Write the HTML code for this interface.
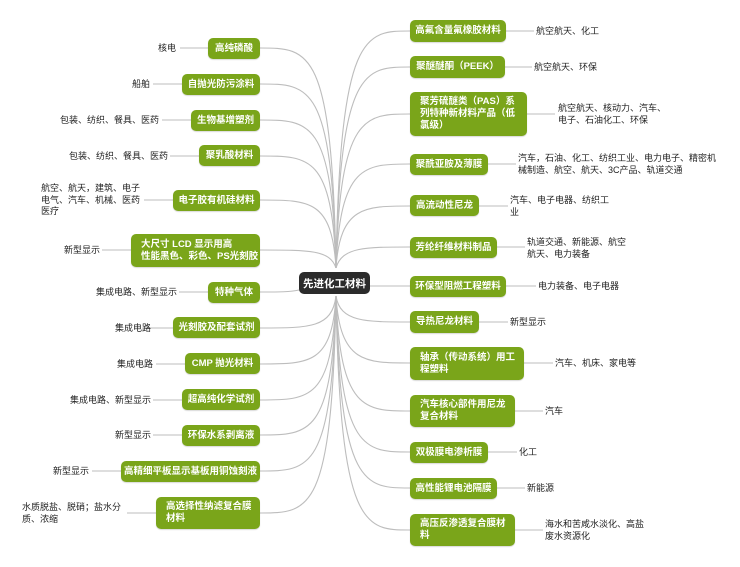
<!DOCTYPE html>
<html><head><meta charset="utf-8"><style>
body{margin:0;width:740px;height:567px;background:#fff;position:relative;overflow:hidden;font-family:"Liberation Sans","Noto Sans CJK SC",sans-serif;}
.n{position:absolute;background:#7aa51a;color:#fff;font-size:9.5px;font-weight:bold;border-radius:5px;box-sizing:border-box;padding:0 4px;display:flex;align-items:center;justify-content:center;line-height:16px;white-space:nowrap;box-shadow:0 1px 1px rgba(0,0,0,.15);}
.n.m{justify-content:flex-start;padding-left:10px;line-height:12px;}
.l{position:absolute;color:#222;font-size:9px;line-height:12px;white-space:nowrap;}
.r{text-align:right;}
.c{position:absolute;left:299px;top:272px;width:71px;height:22px;background:#2b2b2b;color:#fff;font-size:10.5px;font-weight:bold;border-radius:5px;display:flex;align-items:center;justify-content:center;white-space:nowrap;}
svg{position:absolute;left:0;top:0;}
</style></head><body>
<svg width="740" height="567" fill="none" stroke="#bdbdbd" stroke-width="1.1">
<path d="M336,268 C332,48 310,48 260,48 M208,48 H180"/>
<path d="M336,268 C332,84 310,84 260,84 M182,84 H153"/>
<path d="M336,268 C332,120 310,120 260,120 M191,120 H162"/>
<path d="M336,268 C332,156 310,156 260,156 M199,156 H170"/>
<path d="M336,268 C332,200 310,200 260,200 M173,200 H144"/>
<path d="M336,268 C330,250 310,250 260,250 M131,250 H102"/>
<path d="M299,290 C290,292 280,292 260,292 M208,292 H179"/>
<path d="M336,296 C332,328 310,328 260,328 M173,328 H144"/>
<path d="M336,296 C332,364 310,364 260,364 M185,364 H156"/>
<path d="M336,296 C332,400 310,400 260,400 M182,400 H153"/>
<path d="M336,296 C332,435 310,435 260,435 M182,435 H153"/>
<path d="M336,296 C332,471 310,471 260,471 M121,471 H92"/>
<path d="M336,296 C332,513 310,513 260,513 M156,513 H127"/>
<path d="M336,268 C340,31 365,31 410,31 M506,31 H534"/>
<path d="M336,268 C340,67 365,67 410,67 M505,67 H532"/>
<path d="M336,268 C340,114 365,114 410,114 M527,114 H555"/>
<path d="M336,268 C340,164 365,164 410,164 M488,164 H516"/>
<path d="M336,268 C340,206 365,206 410,206 M479,206 H508"/>
<path d="M336,268 C342,247 365,247 410,247 M497,247 H525"/>
<path d="M370,286 H410 M506,286 H536"/>
<path d="M336,296 C340,322 365,322 410,322 M479,322 H508"/>
<path d="M336,296 C340,363 365,363 410,363 M524,363 H553"/>
<path d="M336,296 C340,411 365,411 410,411 M515,411 H543"/>
<path d="M336,296 C340,452 365,452 410,452 M488,452 H517"/>
<path d="M336,296 C340,488 365,488 410,488 M497,488 H525"/>
<path d="M336,296 C340,530 365,530 410,530 M515,530 H543"/>
</svg>
<div class="c">先进化工材料</div>

<div class="n" style="left:208px;top:38px;width:52px;height:21px">高纯磷酸</div>
<div class="n" style="left:182px;top:74px;width:78px;height:21px">自抛光防污涂料</div>
<div class="n" style="left:191px;top:110px;width:69px;height:21px">生物基增塑剂</div>
<div class="n" style="left:199px;top:145px;width:61px;height:21px">聚乳酸材料</div>
<div class="n" style="left:173px;top:190px;width:87px;height:21px">电子胶有机硅材料</div>
<div class="n m" style="left:131px;top:234px;width:129px;height:33px">大尺寸 LCD 显示用高<br>性能黑色、彩色、PS光刻胶</div>
<div class="n" style="left:208px;top:282px;width:52px;height:21px">特种气体</div>
<div class="n" style="left:173px;top:317px;width:87px;height:21px">光刻胶及配套试剂</div>
<div class="n" style="left:185px;top:353px;width:75px;height:21px">CMP 抛光材料</div>
<div class="n" style="left:182px;top:389px;width:78px;height:21px">超高纯化学试剂</div>
<div class="n" style="left:182px;top:425px;width:78px;height:21px">环保水系剥离液</div>
<div class="n" style="left:121px;top:461px;width:139px;height:21px">高精细平板显示基板用铜蚀刻液</div>
<div class="n m" style="left:156px;top:497px;width:104px;height:32px">高选择性纳滤复合膜<br>材料</div>

<div class="l r" style="right:564px;top:42px">核电</div>
<div class="l r" style="right:590px;top:78px">船舶</div>
<div class="l r" style="right:581px;top:114px">包装、纺织、餐具、医药</div>
<div class="l r" style="right:572px;top:150px">包装、纺织、餐具、医药</div>
<div class="l" style="left:41px;top:183px;line-height:11.5px">航空、航天，建筑、电子<br>电气、汽车、机械、医药<br>医疗</div>
<div class="l r" style="right:640px;top:244px">新型显示</div>
<div class="l r" style="right:563px;top:286px">集成电路、新型显示</div>
<div class="l r" style="right:589px;top:322px">集成电路</div>
<div class="l r" style="right:587px;top:358px">集成电路</div>
<div class="l r" style="right:589px;top:394px">集成电路、新型显示</div>
<div class="l r" style="right:589px;top:429px">新型显示</div>
<div class="l r" style="right:651px;top:465px">新型显示</div>
<div class="l" style="left:22px;top:501px;line-height:12px">水质脱盐、脱硝；盐水分<br>质、浓缩</div>

<div class="n" style="left:410px;top:20px;width:96px;height:22px">高氟含量氟橡胶材料</div>
<div class="n" style="left:410px;top:56px;width:95px;height:22px">聚醚醚酮（PEEK）</div>
<div class="n m" style="left:410px;top:92px;width:117px;height:44px">聚芳硫醚类（PAS）系<br>列特种新材料产品（低<br>氯级）</div>
<div class="n" style="left:410px;top:154px;width:78px;height:21px">聚酰亚胺及薄膜</div>
<div class="n" style="left:410px;top:195px;width:69px;height:21px">高流动性尼龙</div>
<div class="n" style="left:410px;top:237px;width:87px;height:21px">芳纶纤维材料制品</div>
<div class="n" style="left:410px;top:276px;width:96px;height:21px">环保型阻燃工程塑料</div>
<div class="n" style="left:410px;top:311px;width:69px;height:22px">导热尼龙材料</div>
<div class="n m" style="left:410px;top:347px;width:114px;height:33px">轴承（传动系统）用工<br>程塑料</div>
<div class="n m" style="left:410px;top:395px;width:105px;height:32px">汽车核心部件用尼龙<br>复合材料</div>
<div class="n" style="left:410px;top:442px;width:78px;height:21px">双极膜电渗析膜</div>
<div class="n" style="left:410px;top:478px;width:87px;height:21px">高性能锂电池隔膜</div>
<div class="n m" style="left:410px;top:514px;width:105px;height:32px">高压反渗透复合膜材<br>料</div>

<div class="l" style="left:536px;top:25px">航空航天、化工</div>
<div class="l" style="left:534px;top:61px">航空航天、环保</div>
<div class="l" style="left:558px;top:102px">航空航天、核动力、汽车、<br>电子、石油化工、环保</div>
<div class="l" style="left:518px;top:152px">汽车，石油、化工、纺织工业、电力电子、精密机<br>械制造、航空、航天、3C产品、轨道交通</div>
<div class="l" style="left:510px;top:194px">汽车、电子电器、纺织工<br>业</div>
<div class="l" style="left:527px;top:236px">轨道交通、新能源、航空<br>航天、电力装备</div>
<div class="l" style="left:538px;top:280px">电力装备、电子电器</div>
<div class="l" style="left:510px;top:316px">新型显示</div>
<div class="l" style="left:555px;top:357px">汽车、机床、家电等</div>
<div class="l" style="left:545px;top:405px">汽车</div>
<div class="l" style="left:519px;top:446px">化工</div>
<div class="l" style="left:527px;top:482px">新能源</div>
<div class="l" style="left:545px;top:518px">海水和苦咸水淡化、高盐<br>废水资源化</div>
</body></html>
